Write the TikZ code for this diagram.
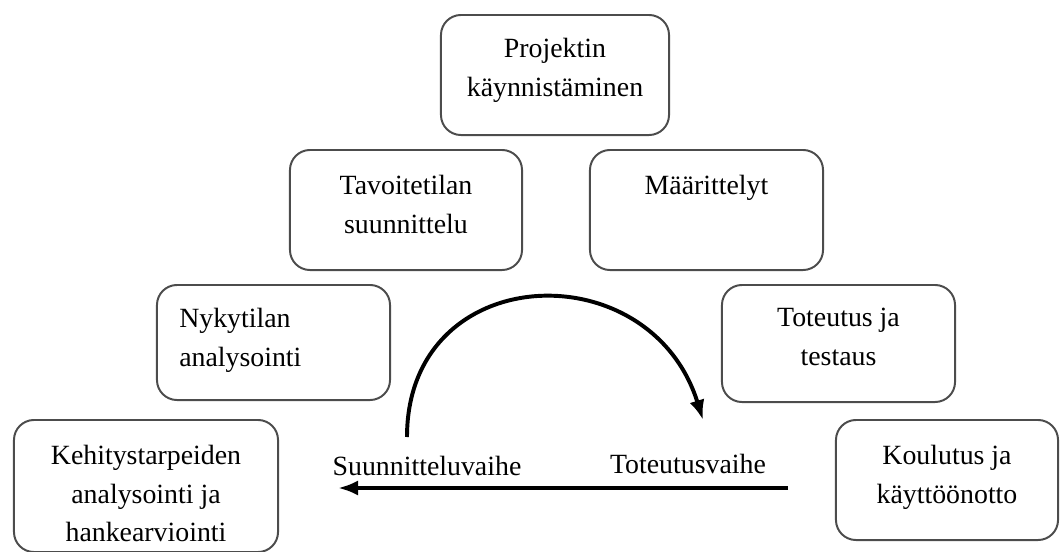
\documentclass[tikz,border=0pt]{standalone}
\usepackage{fontspec}
\setmainfont{Liberation Serif}
\usepackage{tikz}
\usetikzlibrary{positioning, arrows.meta}

\tikzset{
  stagebox/.style={draw=black!70, line width=1.4pt, rounded corners=0.5cm, minimum height=3cm, inner sep=0pt},
  stagetxt/.style={inner sep=0pt, align=center, font=\fontsize{19.8}{27.5}\selectfont},
  flow/.style={line width=2.8pt, -{Latex[length=0.5cm, width=0.38cm]}}
}

\begin{document}
\begin{tikzpicture}[x=0.025cm, y=-0.025cm]
  \useasboundingbox (0,0) rectangle (1060,552);

  % phase boxes
  \node[stagebox, minimum width=5.7cm] (proj) at (555,75) {};
  \node[stagebox, minimum width=5.8cm] (tav) at (406,210) {};
  \node[stagebox, minimum width=5.825cm] (maar) at (706.5,210) {};
  \node[stagebox, minimum width=5.825cm, minimum height=2.875cm] (nyk) at (273.5,342.5) {};
  \node[stagebox, minimum width=5.825cm, minimum height=2.925cm] (tot) at (838.5,343.5) {};
  \node[stagebox, minimum width=6.6cm, minimum height=3.3cm] (keh) at (146,486) {};
  \node[stagebox, minimum width=5.55cm] (kou) at (947,480) {};

  % texts
  \node[stagetxt, below=0.6cm of proj.north] (projtxt) {Projektin\\käynnistäminen};
  \node[stagetxt, below=0.65cm of tav.north] (tavtxt) {Tavoitetilan\\suunnittelu};
  \node[stagetxt, below=0.65cm of maar.north] (maartxt) {Määrittelyt};
  \node[stagetxt, align=left, below right=0.6cm and 0.575cm of nyk.north west] (nyktxt) {Nykytilan\\analysointi};
  \node[stagetxt, below=0.6cm of tot.north] (tottxt) {Toteutus ja\\testaus};
  \node[stagetxt, below=0.65cm of keh.north] (kehtxt) {Kehitystarpeiden\\analysointi ja\\hankearviointi};
  \node[stagetxt, below=0.65cm of kou.north] (koutxt) {Koulutus ja\\käyttöönotto};

  % phases
  \node[stagetxt] (svaihe) at (427,466) {Suunnitteluvaihe};
  \node[stagetxt] (tvaihe) at (688,464) {Toteutusvaihe};

  \coordinate (arcstart) at (407,437);
  \coordinate (arcend) at (703,420);
  \coordinate (backstart) at (788,488);
  \coordinate (backend) at (338,488);
  \draw[flow] (arcstart) .. controls (407,260) and (650,250) .. (arcend);
  \draw[flow] (backstart) -- (backend);
\end{tikzpicture}
\end{document}
